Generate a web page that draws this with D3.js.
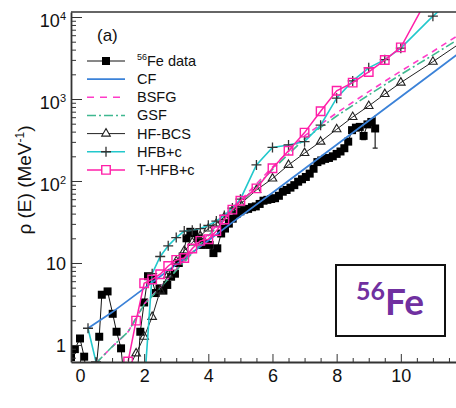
<!DOCTYPE html>
<html>
<head>
<meta charset="utf-8">
<script src="https://d3js.org/d3.v7.min.js"></script>
<style>
    body { margin: 0; background: white; }
    text { font-family: "Liberation Sans", Arial, sans-serif; fill: #111; }
    .axis path, .axis line { stroke: #333; }
</style>
</head>
<body>
<script>
// --- values ---
// 56Fe data (MeV, MeV^-1)
var dataEnergy = [-0.28, -0.16, 0.0, 0.13, 0.25, 0.37, 0.49, 0.6, 0.68, 0.86, 1.02, 1.14, 1.28, 1.4, 1.52, 1.64, 1.76,
    1.88, 2.0, 2.12, 2.24, 2.36, 2.48, 2.6, 2.72, 2.84, 2.96, 3.08, 3.2, 3.32, 3.44, 3.56, 3.68, 3.8, 3.92, 4.04, 4.16,
    4.28, 4.4, 4.52, 4.64, 4.76, 4.88, 5.0, 5.12, 5.24, 5.36, 5.48, 5.6, 5.72, 5.84, 5.96, 6.08, 6.2, 6.32, 6.44, 6.56,
    6.68, 6.8, 6.92, 7.04, 7.16, 7.28, 7.4, 7.52, 7.64, 7.76, 7.88, 8.0, 8.12, 8.24, 8.36, 8.48, 8.6, 8.72, 8.84, 8.96,
    9.08, 9.2];
var dataRho = [0.71, 0.89, 1.2, 0.72, 0.3, 0.3, 0.45, 1.26, 4.1, 4.5, 2.4, 1.45, 0.91, 0.3, 0.3, 0.3, 0.3,
    1.45, 3.3, 6.9, 6.3, 4.3, 4.9, 4.6, 5.4, 6.8, 7.4, 10, 12, 20, 24, 23, 20, 16.6, 17.4, 16.6, 13.2,
    15.1, 22.9, 26.3, 30.2, 34.7, 39.8, 42.7, 44.7, 45.7, 47.9, 49, 52.5, 57.5, 58.9, 60.3, 61.7, 66, 74, 77.6, 83,
    89, 98, 105, 112, 123, 141, 170, 178, 186, 191, 200, 214, 229, 251, 302, 417, 447, 457, 355, 490,
    525, 437];
// visible error bars on the data
var dataErrE = [8.84, 9.2];
var dataErrLo = [320, 251];
var dataErrHi = [385, 631];

// CF
var cfEnergy = [0.25, 1, 2, 3, 4, 5, 6, 7, 8, 9, 10, 11, 12];
var cfRho = [1.6, 2.5, 4.9, 9.6, 18.8, 37, 72, 141, 277, 543, 1065, 2090, 4100];

// BSFG and GSF
var bsfgEnergy = [0.5, 1, 1.5, 2, 2.5, 3, 3.5, 4, 5, 6, 7, 8, 9, 10, 11, 12];
var bsfgRho = [0.6, 0.95, 1.45, 3.16, 5.1, 8.3, 13.6, 22.4, 57.5, 148, 355, 676, 1230, 2190, 3800, 6760];
var gsfRho = [0.6, 0.95, 1.45, 3.1, 5.0, 8.1, 13.2, 21.5, 54, 138, 327, 620, 1120, 1990, 3430, 6030];

// microscopic tables (HF-BCS, HFB+c, T-HFB+c)
var hfbEnergy = [0.25, 0.5, 0.75, 1, 1.25, 1.5, 1.75, 2, 2.25, 2.5, 2.75, 3, 3.25, 3.5, 3.75, 4, 4.25, 4.5, 4.75, 5,
    5.5, 6, 6.5, 7, 7.5, 8, 8.5, 9, 9.5, 10, 11, 12];
var hfbcsRho = [null, null, null, null, null, 0.5, 0.79, 1.26, 2.2, 4.6, 7.2, 10.5, 14.1, 17.8, 21.4, 26.3, 30.2, 36.3, 43.7, 52.5,
    77.6, 107, 157, 219, 302, 427, 603, 822, 1148, 1585, 2851, 5250];
var hfbcRho = [1.6, 0.62, 0.01, 0.01, 0.01, 0.01, 0.01, 0.3, 7.4, 12, 16.2, 20.4, 24.5, 25.1, 26.3, 28.8, 32.4, 38, 46.8, 60,
    157, 257, 275, 302, 479, 1023, 1660, 2400, 3020, 4170, 10230, 22400];
var thfbcRho = [null, null, null, null, null, 0.63, 1.98, 5.65, 6.3, 7.3, 9.2, 10.9, 11.5, 15, 18.6, 19.5, 24.5, 33.9, 44.7, 57.5,
    81.3, 143, 234, 389, 708, 1259, 1585, 2138, 2985, 4266, 22400, 39800];

var xTicks = [0, 2, 4, 6, 8, 10];
var yTicks = [1, 10, 100, 1000, 10000];
var legendLabels = ["Fe data", "CF", "BSFG", "GSF", "HF-BCS", "HFB+c", "T-HFB+c"];

// --- setup ---
var width = 456, height = 408;
var svg = d3.select("body").append("svg")
    .attr("width", width)
    .attr("height", height);

var x = d3.scaleLinear().domain([-0.28, 11.72]).range([71, 456]);
var y = d3.scaleLog().domain([0.62, 11510]).range([362, 12]);

svg.append("clipPath").attr("id", "plotclip")
    .append("rect")
    .attr("x", 71).attr("y", 12)
    .attr("width", 456 - 71).attr("height", 350);

function pairs(es, vs) {
    return es.map(function(e, i) { return [e, vs[i]]; });
}
var line = d3.line()
    .defined(function(d) { return d[1] != null; })
    .x(function(d) { return x(d[0]); })
    .y(function(d) { return y(d[1]); });

var plot = svg.append("g").attr("clip-path", "url(#plotclip)");

// data
var dataPts = pairs(dataEnergy, dataRho);
plot.append("path").datum(dataPts)
    .attr("d", line).attr("fill", "none").attr("stroke", "#111").attr("stroke-width", 1);
plot.selectAll("errbar").data(dataErrE).enter().append("path")
    .attr("d", function(e, i) {
        var px = x(e), lo = y(dataErrLo[i]), hi = y(dataErrHi[i]);
        return "M" + px + "," + lo + "V" + hi + "M" + (px - 2.5) + "," + lo + "H" + (px + 2.5);
    })
    .attr("stroke", "#222").attr("stroke-width", 1.2).attr("fill", "none");
plot.selectAll("datasq").data(dataPts).enter().append("path")
    .attr("d", d3.symbol(d3.symbolSquare, 64))
    .attr("transform", function(d) { return "translate(" + x(d[0]) + "," + y(d[1]) + ")"; })
    .attr("fill", "#000");

// CF
plot.append("path").datum(pairs(cfEnergy, cfRho))
    .attr("d", line).attr("fill", "none").attr("stroke", "#3b82d8").attr("stroke-width", 1.8);
// BSFG
plot.append("path").datum(pairs(bsfgEnergy, bsfgRho))
    .attr("d", line).attr("fill", "none").attr("stroke", "#ff3cc8").attr("stroke-width", 1.6)
    .attr("stroke-dasharray", "6,5");
// GSF
plot.append("path").datum(pairs(bsfgEnergy, gsfRho))
    .attr("d", line).attr("fill", "none").attr("stroke", "#3fb890").attr("stroke-width", 1.6)
    .attr("stroke-dasharray", "9,3,2,3");

// HF-BCS
var bcsPts = pairs(hfbEnergy, hfbcsRho);
plot.append("path").datum(bcsPts)
    .attr("d", line).attr("fill", "none").attr("stroke", "#222").attr("stroke-width", 1);
plot.selectAll("bcs").data(bcsPts.filter(function(d) { return d[1] != null; })).enter().append("path")
    .attr("d", d3.symbol(d3.symbolTriangle, 32))
    .attr("transform", function(d) { return "translate(" + x(d[0]) + "," + y(d[1]) + ")"; })
    .attr("fill", "none").attr("stroke", "#222").attr("stroke-width", 1.1);

// HFB+c
var hfbcPts = pairs(hfbEnergy, hfbcRho);
plot.append("path").datum(hfbcPts)
    .attr("d", line).attr("fill", "none").attr("stroke", "#22c8cc").attr("stroke-width", 1.6);
plot.selectAll("hfbc").data(hfbcPts).enter().append("path")
    .attr("d", "M-5,0H5M0,-5V5")
    .attr("transform", function(d) { return "translate(" + x(d[0]) + "," + y(d[1]) + ")"; })
    .attr("stroke", "#333").attr("stroke-width", 1.3);

// T-HFB+c
var thfbPts = pairs(hfbEnergy, thfbcRho);
plot.append("path").datum(thfbPts)
    .attr("d", line).attr("fill", "none").attr("stroke", "#ff1fa8").attr("stroke-width", 1.5);
plot.selectAll("thfb").data(thfbPts.filter(function(d) { return d[1] != null; })).enter().append("path")
    .attr("d", d3.symbol(d3.symbolSquare, 72))
    .attr("transform", function(d) { return "translate(" + x(d[0]) + "," + y(d[1]) + ")"; })
    .attr("fill", "none").attr("stroke", "#ff1fa8").attr("stroke-width", 1.4);

// --- axes ---
// top frame
svg.append("line").attr("x1", 71).attr("x2", 456).attr("y1", 12).attr("y2", 12)
    .attr("stroke", "#333").attr("stroke-width", 1.5);

var xMinor = d3.range(0, 12, 0.5).filter(function(v) { return xTicks.indexOf(v) < 0; });
svg.append("g").attr("class", "axis").attr("transform", "translate(0,362)")
    .call(d3.axisBottom(x).tickValues(xMinor).tickSize(-4).tickSizeOuter(0).tickFormat(""))
    .select(".domain").remove();
var xAxis = svg.append("g").attr("class", "axis").attr("transform", "translate(0,362)")
    .call(d3.axisBottom(x).tickValues(xTicks).tickSize(-8).tickSizeOuter(0).tickPadding(7)
        .tickFormat(d3.format("d")));
xAxis.select(".domain").attr("stroke-width", 1.8);
xAxis.selectAll("text").style("font-size", "18px").attr("fill", "#111");

var yMinor = [];
[0.1, 1, 10, 100, 1000].forEach(function(dec) {
    for (var k = 2; k <= 9; k++) {
        var v = dec * k;
        if (v >= 0.62 && v <= 11510) yMinor.push(v);
    }
});
svg.append("g").attr("class", "axis").attr("transform", "translate(71,0)")
    .call(d3.axisLeft(y).tickValues(yMinor).tickSize(-5).tickSizeOuter(0).tickFormat(""))
    .select(".domain").remove();
var yAxis = svg.append("g").attr("class", "axis").attr("transform", "translate(71,0)")
    .call(d3.axisLeft(y).tickValues(yTicks).tickSize(-11).tickSizeOuter(0).tickFormat(""));
yAxis.select(".domain").attr("stroke-width", 1.8);
yAxis.selectAll(".tick").each(function(d) {
    var p = Math.round(Math.log10(d));
    var t = d3.select(this).append("text")
        .attr("text-anchor", "end").attr("x", -5)
        .style("font-size", "18px");
    if (p < 2) {
        t.attr("y", 6.5).text(d);
    } else {
        t.attr("y", 9.7);
        t.append("tspan").text("10");
        t.append("tspan").attr("dy", -7).style("font-size", "11px").text(p);
    }
});

// y title
var ytitle = svg.append("text")
    .attr("transform", "translate(31,180) rotate(-90)")
    .attr("text-anchor", "middle")
    .style("font-size", "19px");
ytitle.append("tspan").text("\u03C1 (E) (MeV");
ytitle.append("tspan").attr("dy", -7).style("font-size", "12px").text("-1");
ytitle.append("tspan").attr("dy", 7).text(")");

// --- legend ---
svg.append("text").attr("x", 97).attr("y", 41).style("font-size", "17px").text("(a)");

var legend = svg.append("g");
legendLabels.forEach(function(lab, i) {
    var cy = 61 + i * 18.15;
    var g = legend.append("g").attr("transform", "translate(0," + cy + ")");
    var ln = g.append("line").attr("x1", 87).attr("x2", 125).attr("y1", 0).attr("y2", 0);
    if (i === 0) {
        ln.attr("stroke", "#111").attr("stroke-width", 1);
        g.append("path").attr("d", d3.symbol(d3.symbolSquare, 64)).attr("transform", "translate(106,0)")
            .attr("fill", "#000");
    } else if (i === 1) {
        ln.attr("stroke", "#3b82d8").attr("stroke-width", 1.8);
    } else if (i === 2) {
        ln.attr("stroke", "#ff3cc8").attr("stroke-width", 1.6).attr("stroke-dasharray", "7,6");
    } else if (i === 3) {
        ln.attr("stroke", "#3fb890").attr("stroke-width", 1.6).attr("stroke-dasharray", "9,3,2,3");
    } else if (i === 4) {
        ln.attr("stroke", "#222").attr("stroke-width", 1);
        g.append("path").attr("d", d3.symbol(d3.symbolTriangle, 32)).attr("transform", "translate(106,0)")
            .attr("fill", "white").attr("stroke", "#222").attr("stroke-width", 1.1);
    } else if (i === 5) {
        ln.attr("stroke", "#22c8cc").attr("stroke-width", 1.6);
        g.append("path").attr("d", "M-5,0H5M0,-5V5").attr("transform", "translate(106,0)")
            .attr("stroke", "#333").attr("stroke-width", 1.3);
    } else {
        ln.attr("stroke", "#ff1fa8").attr("stroke-width", 1.5);
        g.append("path").attr("d", d3.symbol(d3.symbolSquare, 72)).attr("transform", "translate(106,0)")
            .attr("fill", "white").attr("stroke", "#ff1fa8").attr("stroke-width", 1.4);
    }
    var t = g.append("text").attr("x", 137).attr("y", 5).style("font-size", "14.5px");
    if (i === 0) {
        t.append("tspan").attr("dy", -6).style("font-size", "9px").text("56");
        t.append("tspan").attr("dy", 6).text(lab);
    } else {
        t.text(lab);
    }
});

// --- nucleus box ---
svg.append("rect").attr("x", 336).attr("y", 265).attr("width", 109).attr("height", 71)
    .attr("fill", "white").attr("stroke", "#111").attr("stroke-width", 2);
var nuc = svg.append("text").attr("x", 356).attr("y", 315)
    .style("font-family", "Lato, 'Open Sans', sans-serif").style("font-weight", "bold")
    .style("fill", "#7030a0");
nuc.append("tspan").attr("dy", -15).style("font-size", "25px").text("56");
nuc.append("tspan").attr("dy", 15).style("font-size", "37px").text("Fe");
</script>
</body>
</html>
